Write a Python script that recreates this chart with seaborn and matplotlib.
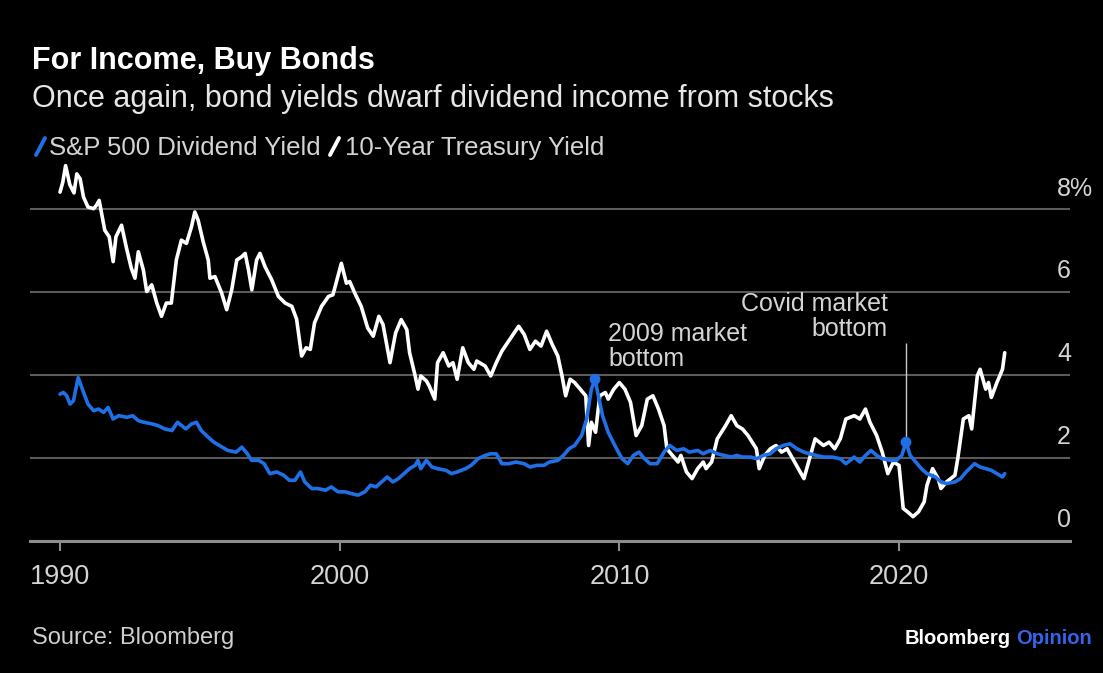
import matplotlib
matplotlib.use("Agg")
import pandas as pd
import seaborn as sns
import matplotlib.pyplot as plt
from matplotlib import transforms
from matplotlib.lines import Line2D

TITLE = "For Income, Buy Bonds"
SUBTITLE = "Once again, bond yields dwarf dividend income from stocks"
DIVIDEND = "S&P 500 Dividend Yield"
TREASURY = "10-Year Treasury Yield"
SOURCE = "Source: Bloomberg"

# 10-year treasury yield
treasury_years = [
    1990.0, 1990.1, 1990.2, 1990.35, 1990.5, 1990.6, 1990.72, 1990.84, 1991.0, 1991.2,
    1991.3, 1991.4, 1991.6, 1991.76, 1991.9, 1992.0, 1992.2, 1992.38, 1992.55, 1992.68,
    1992.8, 1992.98, 1993.1, 1993.28, 1993.46, 1993.63, 1993.8, 1993.98, 1994.16, 1994.34,
    1994.52, 1994.7, 1994.82, 1994.94, 1995.12, 1995.3, 1995.36, 1995.54, 1995.78, 1995.96,
    1996.14, 1996.32, 1996.5, 1996.62, 1996.74, 1996.86, 1997.03, 1997.15, 1997.33, 1997.57,
    1997.81, 1998.05, 1998.29, 1998.46, 1998.64, 1998.8, 1998.95, 1999.1, 1999.35, 1999.6,
    1999.76, 2000.06, 2000.24, 2000.36, 2000.54, 2000.77, 2001.0, 2001.2, 2001.4, 2001.55,
    2001.8, 2002.0, 2002.2, 2002.4, 2002.5, 2002.7, 2002.8, 2002.9, 2003.1, 2003.2,
    2003.4, 2003.5, 2003.7, 2003.9, 2004.05, 2004.2, 2004.4, 2004.6, 2004.8, 2004.9,
    2005.2, 2005.4, 2005.6, 2005.8, 2006.0, 2006.2, 2006.4, 2006.6, 2006.8, 2007.0,
    2007.2, 2007.4, 2007.6, 2007.8, 2007.95, 2008.08, 2008.24, 2008.4, 2008.6, 2008.8,
    2008.9, 2009.0, 2009.15, 2009.3, 2009.5, 2009.6, 2009.8, 2010.0, 2010.2, 2010.4,
    2010.6, 2010.8, 2011.0, 2011.2, 2011.4, 2011.6, 2011.7, 2011.9, 2012.1, 2012.2,
    2012.4, 2012.6, 2012.8, 2013.0, 2013.1, 2013.3, 2013.5, 2013.8, 2014.0, 2014.2,
    2014.4, 2014.6, 2014.9, 2015.0, 2015.2, 2015.4, 2015.6, 2015.8, 2016.0, 2016.2,
    2016.4, 2016.6, 2016.8, 2017.0, 2017.3, 2017.5, 2017.7, 2017.9, 2018.1, 2018.4,
    2018.6, 2018.8, 2018.96, 2019.2, 2019.4, 2019.6, 2019.8, 2020.0, 2020.15, 2020.3,
    2020.5, 2020.7, 2020.9, 2021.0, 2021.2, 2021.4, 2021.5, 2021.7, 2022.0, 2022.1,
    2022.3, 2022.5, 2022.6, 2022.8, 2022.9, 2023.1, 2023.2, 2023.3, 2023.5, 2023.7,
    2023.78,
]
treasury_values = [
    8.42, 8.66, 9.06, 8.60, 8.40, 8.86, 8.74, 8.30, 8.06, 8.02,
    8.10, 8.22, 7.50, 7.34, 6.74, 7.34, 7.62, 7.06, 6.58, 6.34,
    6.98, 6.54, 6.02, 6.18, 5.74, 5.42, 5.74, 5.74, 6.78, 7.26,
    7.18, 7.58, 7.94, 7.74, 7.22, 6.78, 6.34, 6.38, 5.98, 5.58,
    6.06, 6.78, 6.86, 6.94, 6.54, 6.06, 6.78, 6.94, 6.62, 6.30,
    5.90, 5.74, 5.66, 5.35, 4.46, 4.66, 4.62, 5.26, 5.66, 5.90,
    5.94, 6.70, 6.22, 6.26, 5.98, 5.66, 5.14, 4.94, 5.42, 5.22,
    4.30, 5.02, 5.34, 5.10, 4.54, 3.98, 3.66, 3.98, 3.86, 3.74,
    3.42, 4.30, 4.54, 4.22, 4.30, 3.90, 4.66, 4.30, 4.14, 4.34,
    4.22, 3.98, 4.30, 4.58, 4.78, 4.98, 5.18, 4.98, 4.62, 4.82,
    4.70, 5.06, 4.74, 4.46, 3.98, 3.50, 3.90, 3.82, 3.66, 3.50,
    2.30, 2.86, 2.62, 3.50, 3.58, 3.42, 3.66, 3.82, 3.66, 3.34,
    2.54, 2.78, 3.42, 3.50, 3.18, 2.78, 2.22, 2.06, 1.90, 2.06,
    1.66, 1.50, 1.74, 1.90, 1.74, 1.90, 2.46, 2.78, 3.02, 2.78,
    2.70, 2.54, 2.22, 1.74, 2.06, 2.22, 2.30, 2.14, 2.22, 1.98,
    1.74, 1.50, 1.98, 2.46, 2.30, 2.38, 2.22, 2.46, 2.94, 3.02,
    2.94, 3.18, 2.86, 2.54, 2.14, 1.62, 1.90, 1.82, 0.78, 0.70,
    0.58, 0.70, 0.94, 1.34, 1.74, 1.50, 1.26, 1.42, 1.58, 1.98,
    2.94, 3.02, 2.70, 3.98, 4.14, 3.66, 3.82, 3.46, 3.82, 4.14,
    4.54,
]

# S&P 500 dividend yield
dividend_years = [
    1990.0, 1990.12, 1990.24, 1990.36, 1990.48, 1990.65, 1990.8, 1991.0, 1991.2, 1991.38,
    1991.56, 1991.72, 1991.9, 1992.1, 1992.4, 1992.6, 1992.8, 1993.0, 1993.3, 1993.5,
    1993.75, 1994.0, 1994.2, 1994.35, 1994.5, 1994.7, 1994.88, 1995.05, 1995.3, 1995.5,
    1995.8, 1996.0, 1996.3, 1996.5, 1996.7, 1996.85, 1997.1, 1997.3, 1997.5, 1997.75,
    1998.0, 1998.2, 1998.4, 1998.6, 1998.75, 1999.0, 1999.2, 1999.5, 1999.7, 1999.94,
    2000.2, 2000.4, 2000.66, 2000.9, 2001.1, 2001.3, 2001.5, 2001.7, 2001.9, 2002.1,
    2002.3, 2002.5, 2002.7, 2002.8, 2002.9, 2003.1, 2003.3, 2003.5, 2003.8, 2004.0,
    2004.2, 2004.5, 2004.7, 2004.95, 2005.2, 2005.4, 2005.6, 2005.8, 2006.05, 2006.3,
    2006.6, 2006.8, 2007.05, 2007.3, 2007.5, 2007.8, 2008.0, 2008.2, 2008.4, 2008.65,
    2008.83, 2009.0, 2009.13, 2009.25, 2009.4, 2009.6, 2009.9, 2010.1, 2010.3, 2010.5,
    2010.7, 2010.9, 2011.1, 2011.35, 2011.6, 2011.8, 2012.05, 2012.3, 2012.5, 2012.8,
    2013.0, 2013.25, 2013.5, 2013.75, 2014.0, 2014.2, 2014.4, 2014.7, 2014.9, 2015.15,
    2015.4, 2015.6, 2015.85, 2016.1, 2016.35, 2016.6, 2016.8, 2017.05, 2017.3, 2017.6,
    2017.9, 2018.1, 2018.4, 2018.6, 2018.8, 2019.0, 2019.2, 2019.4, 2019.7, 2019.9,
    2020.1, 2020.25, 2020.4, 2020.6, 2020.8, 2021.0, 2021.3, 2021.5, 2021.7, 2022.0,
    2022.2, 2022.4, 2022.7, 2022.9, 2023.1, 2023.3, 2023.5, 2023.7, 2023.78,
]
dividend_values = [
    3.54, 3.58, 3.50, 3.30, 3.38, 3.94, 3.66, 3.30, 3.14, 3.18,
    3.10, 3.22, 2.94, 3.02, 2.98, 3.02, 2.90, 2.86, 2.82, 2.78,
    2.70, 2.66, 2.86, 2.78, 2.70, 2.82, 2.86, 2.66, 2.50, 2.38,
    2.26, 2.18, 2.14, 2.26, 2.10, 1.94, 1.94, 1.86, 1.62, 1.66,
    1.58, 1.46, 1.46, 1.66, 1.42, 1.26, 1.26, 1.22, 1.30, 1.18,
    1.18, 1.14, 1.10, 1.18, 1.34, 1.30, 1.42, 1.54, 1.42, 1.50,
    1.62, 1.74, 1.82, 1.94, 1.74, 1.94, 1.78, 1.74, 1.70, 1.62,
    1.66, 1.74, 1.82, 1.98, 2.06, 2.10, 2.10, 1.86, 1.86, 1.90,
    1.86, 1.78, 1.82, 1.82, 1.90, 1.94, 2.06, 2.22, 2.30, 2.54,
    2.94, 3.66, 3.90, 3.50, 3.02, 2.62, 2.22, 1.98, 1.86, 2.06,
    2.14, 1.98, 1.86, 1.86, 2.14, 2.30, 2.18, 2.22, 2.14, 2.18,
    2.10, 2.18, 2.10, 2.06, 2.02, 2.06, 2.02, 2.02, 1.98, 2.06,
    2.10, 2.22, 2.30, 2.34, 2.22, 2.14, 2.10, 2.06, 2.02, 2.02,
    1.98, 1.86, 2.02, 1.90, 2.06, 2.18, 2.06, 1.98, 1.94, 1.94,
    2.06, 2.38, 2.06, 1.90, 1.74, 1.62, 1.54, 1.42, 1.38, 1.42,
    1.50, 1.66, 1.86, 1.78, 1.74, 1.70, 1.62, 1.54, 1.62,
]

# market bottoms marked on the dividend line
bottom_labels = ["2009 market\nbottom", "Covid market\nbottom"]
bottom_years = [2009.13, 2020.25]
bottom_values = [3.90, 2.38]
covid_line_top = 4.78

x_ticks = [1990, 2000, 2010, 2020]
y_ticks = [0, 2, 4, 6, 8]
y_tick_labels = ["0", "2", "4", "6", "8%"]

W, H = 1103, 673
BG = "#000000"
BLUE = "#1f6fe6"
WHITE = "#ffffff"
GRID = "#5a5a5a"
AXIS = "#8c8c8c"
TEXT = "#d4d4d4"

sns.set_theme(style="dark", rc={"axes.facecolor": BG, "figure.facecolor": BG})
plt.rcParams["font.family"] = ["Liberation Sans", "DejaVu Sans"]


def fx(px):
    return px / W


def fy(px):
    return 1 - px / H


df = pd.concat([
    pd.DataFrame({"year": treasury_years, "value": treasury_values, "series": TREASURY}),
    pd.DataFrame({"year": dividend_years, "value": dividend_values, "series": DIVIDEND}),
], ignore_index=True)

fig = plt.figure(figsize=(W / 100, H / 100), dpi=100, facecolor=BG)
ax = fig.add_axes([fx(30), fy(540.7), fx(1040), 0.5721])
ax.set_facecolor(BG)

sns.lineplot(data=df, x="year", y="value", hue="series", hue_order=[TREASURY, DIVIDEND],
             palette={TREASURY: WHITE, DIVIDEND: BLUE}, linewidth=2.6,
             estimator=None, sort=False, legend=False, ax=ax)

# covid marker line and the two bottom dots
ax.vlines(bottom_years[1], bottom_values[1], covid_line_top, color="#c8c8c8", lw=1.0, zorder=4)
sns.scatterplot(x=bottom_years, y=bottom_values, color=BLUE, s=60, edgecolor="none",
                zorder=5, legend=False, ax=ax)

ax.text(2009.6, 4.70, bottom_labels[0], color=TEXT, fontsize=18, ha="left", va="center",
        linespacing=1.05)
ax.text(2019.6, 5.42, bottom_labels[1], color=TEXT, fontsize=18, ha="right", va="center",
        linespacing=1.05, multialignment="right")

ax.set_xlim(1988.927, 2026.114)
ax.set_ylim(0, 9.3)
ax.set_xlabel("")
ax.set_ylabel("")

ax.set_xticks(x_ticks)
ax.set_xticklabels([str(t) for t in x_ticks])
ax.tick_params(axis="x", bottom=True, length=7, width=1.5, color=AXIS, pad=10,
               labelsize=19.5, labelcolor=TEXT, direction="out")

ax.set_yticks(y_ticks)
ax.tick_params(axis="y", left=False, right=False, labelleft=False, labelright=False)
ax.grid(False)
ax.yaxis.grid(True, color=GRID, lw=1.5)

for side in ["top", "left", "right"]:
    ax.spines[side].set_visible(False)
ax.spines["bottom"].set_color(AXIS)
ax.spines["bottom"].set_linewidth(2.2)

blend = transforms.blended_transform_factory(ax.transAxes, ax.transData)
for v, lab in zip(y_ticks, y_tick_labels):
    ax.annotate(lab, xy=(0.9875, v), xycoords=blend, xytext=(0, 15),
                textcoords="offset points", ha="left", va="center",
                fontsize=18, color=TEXT, annotation_clip=False)

# header
fig.text(fx(32), fy(69), TITLE, color=WHITE, fontsize=22, fontweight="bold", va="baseline")
fig.text(fx(32), fy(107), SUBTITLE, color="#e6e6e6", fontsize=22, va="baseline")

# legend with slash icons
fig.add_artist(Line2D([fx(36), fx(45)], [fy(155), fy(138)], color=BLUE, lw=2.8,
                      transform=fig.transFigure))
fig.text(fx(49), fy(155), DIVIDEND, color=TEXT, fontsize=18.5, va="baseline")
fig.add_artist(Line2D([fx(330), fx(339)], [fy(155), fy(138)], color=WHITE, lw=2.8,
                      transform=fig.transFigure))
fig.text(fx(345), fy(155), TREASURY, color=TEXT, fontsize=18.5, va="baseline")

# footer
fig.text(fx(32), fy(638), SOURCE, color="#cfcfcf", fontsize=17, va="center")
opinion = fig.text(fx(1092), fy(638), "Opinion", color="#3563e9", fontsize=14.5,
                   fontweight="bold", ha="right", va="center")
fig.canvas.draw()
bb = opinion.get_window_extent()
fig.text(fx(bb.x0 - 5), fy(638), "Bloomberg", color=WHITE, fontsize=14.5,
         fontweight="bold", ha="right", va="center")

fig.savefig("out.png", dpi=100, facecolor=BG)
